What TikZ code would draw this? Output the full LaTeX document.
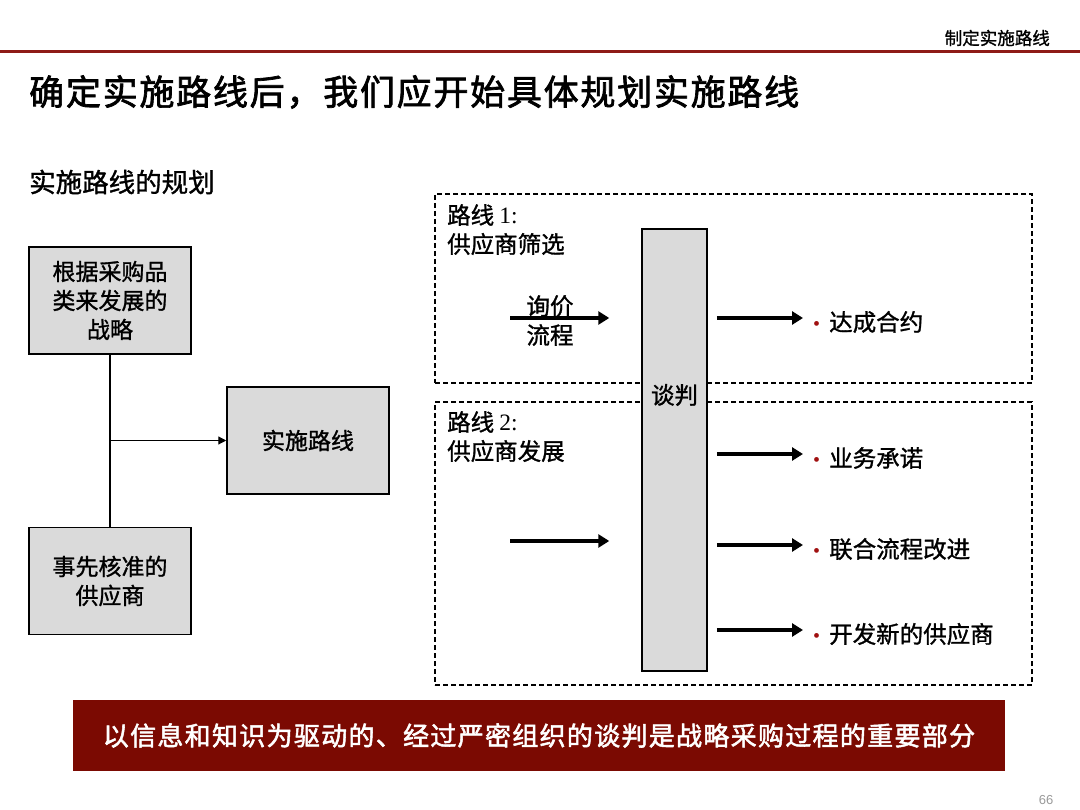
\documentclass[tikz,border=0pt]{standalone}
\usepackage{fontspec}
\setmainfont{Liberation Serif}
\setsansfont{Liberation Sans}
\newfontfamily\cjk{Noto Sans CJK SC}[FakeBold=1.2]
\newfontfamily\cjkb{Noto Sans CJK SC}[FakeBold=2,LetterSpace=5]
\usetikzlibrary{arrows.meta,positioning}
\definecolor{darkred1}{HTML}{7B0A02}
\definecolor{linered}{HTML}{8E1B17}
\definecolor{gray1}{HTML}{DADADA}
\definecolor{dotred}{HTML}{A01010}

\begin{document}
\begin{tikzpicture}[x=1pt,y=-1pt,
	box/.style={draw,fill=gray1,line width=1.5pt,minimum width=162,minimum height=107,align=center,font={\cjk\fontsize{23}{29}\selectfont}},
	routebox/.style={draw,line width=1.3pt,dash pattern=on 5pt off 3pt,minimum width=597},
	txt/.style={inner sep=0,align=left,font={\cjk\fontsize{23.5}{29}\selectfont}},
	bigarrow/.style={line width=3.5pt,-{Triangle[length=11pt,width=13pt]}}]
\useasboundingbox (0,0) rectangle (1080,810);
% header and title
\node[anchor=east,inner sep=0,font={\cjk\fontsize{17.5}{20}\selectfont}] (hdr) at (1050,38) {制定实施路线};
\draw[linered,line width=3pt] (0,52) -- (1080,52);
\node[anchor=west,inner sep=0,font={\cjkb\fontsize{35}{40}\selectfont}] (title) at (29,92) {确定实施路线后，我们应开始具体规划实施路线};
\node[anchor=west,inner sep=0,font={\cjk\fontsize{26.5}{30}\selectfont}] (sub) at (29,182) {实施路线的规划};

% left part
\node[box] (strat) at (110,300.5) {根据采购品\\类来发展的\\战略};
\node[box] (route) at (308,440.5) {实施路线};
\node[box] (supp) at (110,581) {事先核准的\\供应商};
\draw[line width=1.2pt] (strat) -- (supp);
\draw[line width=1.2pt,-{Triangle[length=8pt,width=8pt]}] (strat.south |- route.west) -- (route.west);

% right part
\node[routebox,minimum height=189] (r1) at (733.5,288.5) {};
\node[routebox,minimum height=283] (r2) at (733.5,543.5) {};
\node[draw,fill=gray1,line width=1.5pt,minimum width=65,minimum height=442] (talk) at (674.5,450) {};
\node[txt] (talklbl) at (674.5,395) {谈判};
\node[txt,anchor=north west] (r1lbl) at (447,204) {路线 {\rmfamily 1:}\\供应商筛选};
\node[txt,anchor=north west] (r2lbl) at (447,411) {路线 {\rmfamily 2:}\\供应商发展};

\node[txt,align=center] (inq) at (550,320.5) {询价\\流程};
\coordinate (in1) at (510,318);
\coordinate (in2) at (510,541);
\foreach \c in {in1,in2}
	\draw[bigarrow,shorten >=32pt] (\c) -- (talk.west |- \c);

\foreach \y/\t [count=\i] in {322/达成合约,458/业务承诺,549/联合流程改进,634/开发新的供应商}{
	\node[txt,anchor=west] (out\i) at (813,\y) {{\rmfamily\fontsize{20}{20}\selectfont\color{dotred}\textbullet}\hspace{9pt}\t};
	\draw[bigarrow,shorten >=10pt] ([xshift=9pt,yshift=4pt]talk.east |- out\i.west) -- ([yshift=4pt]out\i.west);
	}

% bottom message
\node[fill=darkred1,minimum width=932,minimum height=71,text=white,font={\cjkb\fontsize{26}{30}\selectfont}] (msg) at (539,735.5) {以信息和知识为驱动的、经过严密组织的谈判是战略采购过程的重要部分};
\node[text=gray!80,inner sep=0,font={\sffamily\fontsize{13}{13}\selectfont}] (pg) at (1046,800) {66};
\end{tikzpicture}
\end{document}
